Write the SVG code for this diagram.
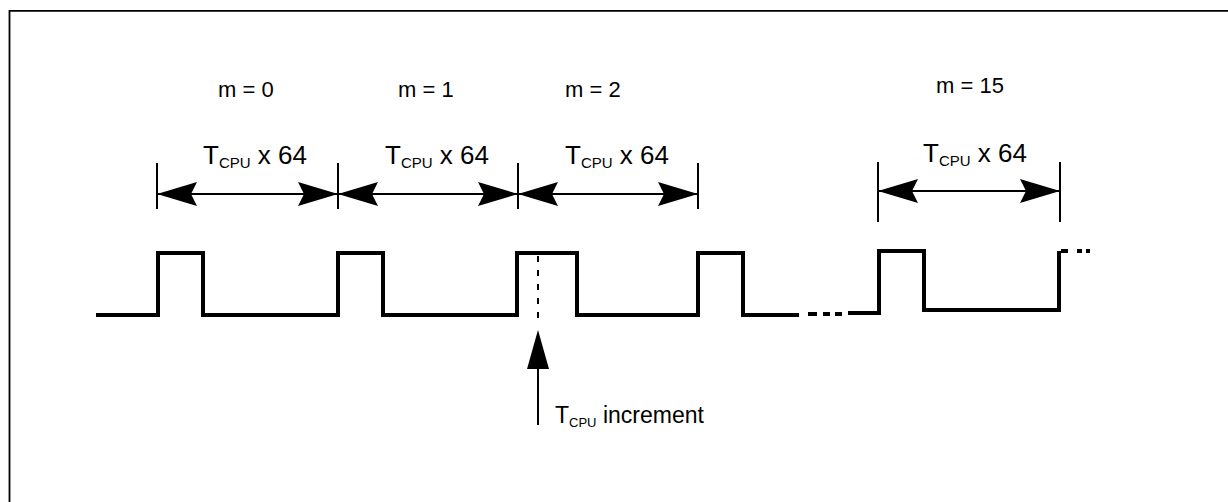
<svg xmlns="http://www.w3.org/2000/svg" width="1228" height="502" viewBox="0 0 1228 502">
<style>
text{font-family:"Liberation Sans",Arial,sans-serif;fill:#000}
.m{font-size:22px}
.t{font-size:26px}
.s{font-size:15px}
.tick{stroke:#000;stroke-width:2;fill:none}
.dim{stroke:#000;stroke-width:2;fill:none;marker-start:url(#ah);marker-end:url(#ah)}
.wave{stroke:#000;stroke-width:4;fill:none;stroke-linejoin:miter;stroke-linecap:butt}
.frame{stroke:#000;stroke-width:1.8;fill:none}
</style>
<defs>
<marker id="ah" markerUnits="userSpaceOnUse" markerWidth="40" markerHeight="24" viewBox="0 0 40 24" refX="40" refY="12" orient="auto-start-reverse">
<path d="M40,12 L0,0 L6,12 L0,24 Z" fill="#000"/>
</marker>
</defs>
<g id="frame">
<path class="frame" d="M9.5,502 V10.8 H1228"/>
</g>
<g id="labels-m">
<text class="m" x="218" y="97">m = 0</text>
<text class="m" x="398" y="97">m = 1</text>
<text class="m" x="565" y="97">m = 2</text>
<text class="m" x="936" y="93">m = 15</text>
</g>
<g id="period-0">
<text class="t" x="203" y="164">T<tspan class="s" dy="4">CPU</tspan><tspan dy="-4"> x 64</tspan></text>
</g>
<g id="period-1">
<text class="t" x="385" y="164">T<tspan class="s" dy="4">CPU</tspan><tspan dy="-4"> x 64</tspan></text>
</g>
<g id="period-2">
<text class="t" x="565" y="164">T<tspan class="s" dy="4">CPU</tspan><tspan dy="-4"> x 64</tspan></text>
</g>
<g id="period-15">
<text class="t" x="923" y="162">T<tspan class="s" dy="4">CPU</tspan><tspan dy="-4"> x 64</tspan></text>
</g>
<g id="connectors">
<path class="tick" d="M157,163 V209 M338,163 V209 M518,163 V209 M698,163 V209 M878,162 V222 M1060,162 V222"/>
<line class="dim" x1="157" y1="194" x2="338" y2="194"/>
<line class="dim" x1="338" y1="194" x2="518" y2="194"/>
<line class="dim" x1="518" y1="194" x2="698" y2="194"/>
<line class="dim" x1="878" y1="191" x2="1060" y2="191"/>
</g>
<g id="waveform">
<path class="wave" d="M96,315 H158 V253 H203 V315 H338 V253 H383 V315 H517 V253 H577 V315 H698 V253 H743 V315 H799"/>
<path class="wave" d="M808,314 H817 M823,314 H830 M835,314 H842"/>
<path class="wave" d="M848,313 H879 V251 H924 V310 H1059 V251"/>
<path class="wave" d="M1061,251 H1068 M1077,251 H1082 M1086,251 H1090"/>
<path d="M538,256 V320" stroke="#000" stroke-width="2" stroke-dasharray="6 8"/>
</g>
<g id="increment">
<line x1="538" y1="366" x2="538" y2="425" stroke="#000" stroke-width="2"/>
<path d="M538,330 L549,369 L527,369 Z" fill="#000"/>
<text x="555" y="423" style="font-size:23px">T<tspan style="font-size:13px" dy="4">CPU</tspan><tspan dy="-4"> increment</tspan></text>
</g>
</svg>
